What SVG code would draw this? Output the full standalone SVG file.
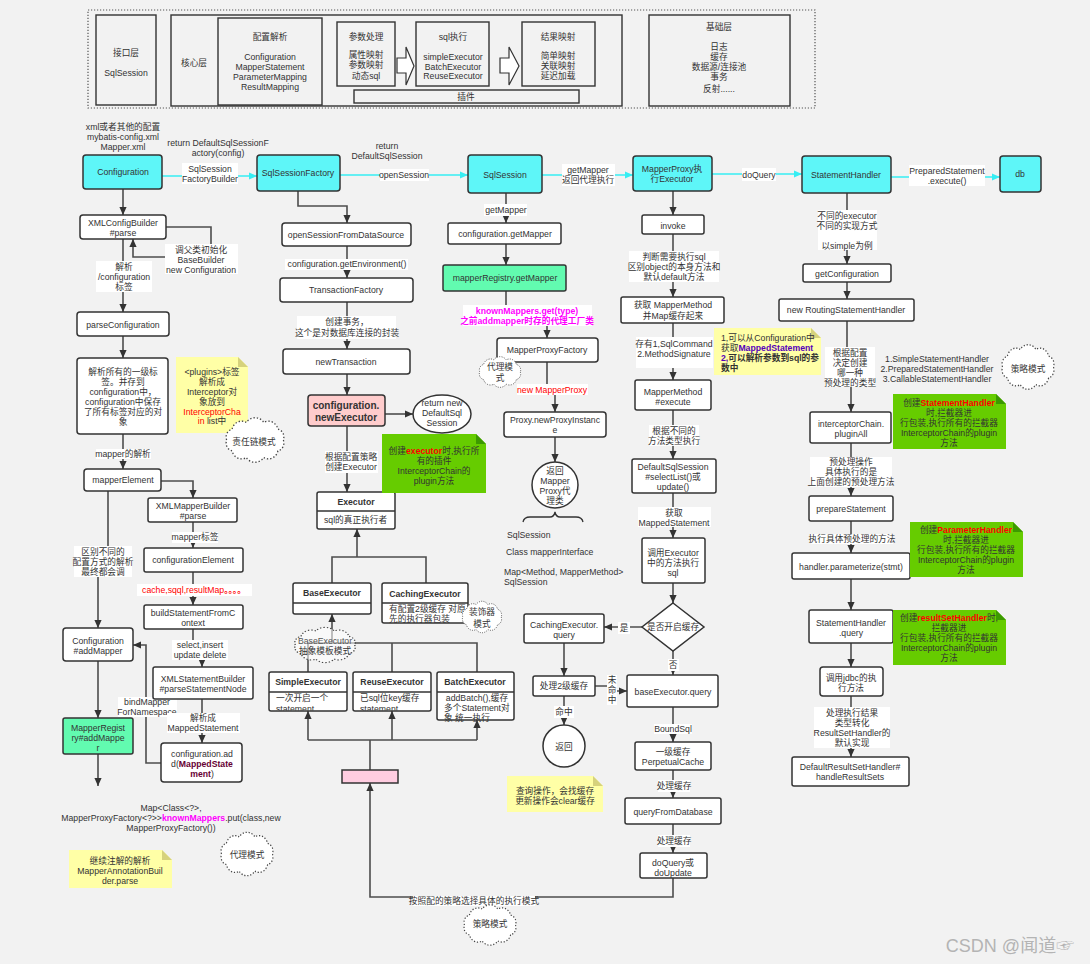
<svg xmlns="http://www.w3.org/2000/svg" width="1090" height="964" viewBox="0 0 1090 964">
<defs>
<style>
text{font-family:"Liberation Sans","Noto Sans CJK SC","DejaVu Sans",sans-serif;font-size:8.7px;fill:#333;text-anchor:middle;dominant-baseline:central}
.l{text-anchor:start}
.b{font-weight:bold}
.box{fill:#fff;stroke:#333;stroke-width:1.5}
.cy{fill:#5ef6f8;stroke:#333;stroke-width:1.5}
.mint{fill:#62fbb0;stroke:#333;stroke-width:1.5}
.pink{fill:#ffcccc;stroke:#333;stroke-width:1.5}
.tb{fill:none;stroke:#333;stroke-width:1.4}
.ln{fill:none;stroke:#4d4d4d;stroke-width:1.6;marker-end:url(#ah)}
.nl{fill:none;stroke:#4d4d4d;stroke-width:1.6}
.cl{fill:none;stroke:#36eef3;stroke-width:1.6;marker-end:url(#ahc)}
.lb{fill:#fff}
.yn{fill:#ffffa6}
.yf{fill:#d6d27c}
.gn{fill:#66cc00}
.gf{fill:#3c9a00}
.cloud{fill:#fff;stroke:#444;stroke-width:1.2;stroke-dasharray:1.2 1.8}
.red{fill:#ff0000}
.rb{fill:#ff0000;font-weight:bold}
.mag{fill:#ff00ff;font-weight:bold}
.pur{fill:#5500bb;font-weight:bold}
.mar{fill:#660033;font-weight:bold}
</style>
<marker id="ah" viewBox="0 0 10 10" refX="10" refY="5" markerWidth="8" markerHeight="8" markerUnits="userSpaceOnUse" orient="auto"><path d="M0,0.5 L10,5 L0,9.5 z" fill="#333"/></marker>
<marker id="ahc" viewBox="0 0 10 10" refX="10" refY="5" markerWidth="8" markerHeight="8" markerUnits="userSpaceOnUse" orient="auto"><path d="M0,0.5 L10,5 L0,9.5 z" fill="#36eef3"/></marker>
<path id="cloud" d="M26,0 A7,7 0 0 1 21,9.4 A9,9 0 0 1 8,15.2 A10,10 0 0 1 -8,15.2 A9,9 0 0 1 -21,9.4 A7,7 0 0 1 -26,0 A7,7 0 0 1 -21,-9.4 A9,9 0 0 1 -8,-15.2 A10,10 0 0 1 8,-15.2 A9,9 0 0 1 21,-9.4 A7,7 0 0 1 26,0 Z"/>
<clipPath id="clipS"><rect x="269" y="692" width="78" height="18.5"/></clipPath>
<clipPath id="clipR"><rect x="353" y="692" width="78" height="18.5"/></clipPath>
</defs>
<rect x="0" y="0" width="1090" height="964" fill="#f2f2f2"/>

<g id="top">
<rect x="88" y="10" width="727" height="98" fill="none" stroke="#555" stroke-width="1.2" stroke-dasharray="1.2 1.8"/>
<g id="n-api"><rect x="96" y="15" width="60" height="90" class="tb"/><text x="126" y="53">接口层</text><text x="126" y="73">SqlSession</text></g>
<g id="n-core"><rect x="171" y="15" width="451" height="91" class="tb"/><text x="194" y="63">核心层</text></g>
<g id="n-cfgparse"><rect x="218" y="18" width="104" height="87" class="tb"/><text x="270" y="37">配置解析</text><text x="270" y="57">Configuration</text><text x="270" y="67">MapperStatement</text><text x="270" y="77">ParameterMapping</text><text x="270" y="87">ResultMapping</text></g>
<g id="n-param"><rect x="337" y="22" width="58" height="64" class="tb"/><text x="366" y="37">参数处理</text><text x="366" y="55">属性映射</text><text x="366" y="65">参数映射</text><text x="366" y="76">动态sql</text></g>
<polygon points="397,58 406,58 406,47 414,66 406,85 406,73 397,73" fill="#fff" stroke="#333" stroke-width="1.2"/>
<g id="n-sqlexec"><rect x="416" y="22" width="73" height="64" class="tb"/><text x="453" y="37">sql执行</text><text x="453" y="57">simpleExecutor</text><text x="453" y="67">BatchExecutor</text><text x="453" y="76">ReuseExecutor</text></g>
<polygon points="500,58 509,58 509,47 519,66 509,85 509,73 500,73" fill="#fff" stroke="#333" stroke-width="1.2"/>
<g id="n-result"><rect x="522" y="22" width="73" height="64" class="tb"/><text x="558" y="37">结果映射</text><text x="558" y="56">简单映射</text><text x="558" y="66">关联映射</text><text x="558" y="76">延迟加载</text></g>
<g id="n-plugin"><rect x="354" y="90" width="225" height="13" class="tb"/><text x="466" y="97">插件</text></g>
<g id="n-base"><rect x="649" y="15" width="141" height="91" class="tb"/><text x="719" y="27">基础层</text><text x="719" y="47">日志</text><text x="719" y="57">缓存</text><text x="719" y="67">数据源/连接池</text><text x="719" y="77">事务</text><text x="719" y="89">反射......</text></g>
</g>

<g id="connectors">
<path class="cl" d="M162,176 H257"/>
<path class="cl" d="M340,175 H468"/>
<path class="cl" d="M542,175 H633"/>
<path class="cl" d="M712,174 H802"/>
<path class="cl" d="M891,177 H1000"/>
<path class="ln" d="M123,189 V215"/>
<path class="ln" d="M166,227 H211 V257 H133 V239"/>
<path class="ln" d="M123,239 V312"/>
<path class="ln" d="M123,336 V358"/>
<path class="ln" d="M123,434 V469"/>
<path class="ln" d="M161,481 H193 V498"/>
<path class="ln" d="M108,491 V560 H98 V628"/>
<path class="ln" d="M193,522 V548"/>
<path class="ln" d="M193,572 V605"/>
<path class="ln" d="M193,629 V650 H202 V667"/>
<path class="ln" d="M202,699 V743"/>
<path class="ln" d="M161,763 H146 V645 H133"/>
<path class="ln" d="M98,661 V718"/>
<path class="ln" d="M98,754 V786"/>
<path class="ln" d="M298,191 V206 H347 V223"/>
<path class="ln" d="M347,246 V278"/>
<path class="ln" d="M347,302 V349"/>
<path class="ln" d="M347,374 V395"/>
<path class="ln" d="M385,414 H413"/>
<path class="ln" d="M347,426 V492"/>
<path class="nl" d="M332,583 V557 H426 V583"/>
<path class="ln" d="M357,557 V529"/>
<path class="nl" d="M308,672 V643 H477 V672 M392,643 V672"/>
<path class="ln" d="M332,643 V614"/>
<path class="ln" d="M673,878 V897 H370 V783"/>
<path class="nl" d="M370,770 V740 M308,740 H477"/>
<path class="ln" d="M308,740 V711"/>
<path class="ln" d="M392,740 V711"/>
<path class="ln" d="M477,740 V720"/>
<path class="ln" d="M506,193 V223"/>
<path class="ln" d="M506,244 V265"/>
<path class="ln" d="M506,291 V315 H547 V338"/>
<path class="ln" d="M547,362 V390 H555 V412"/>
<path class="ln" d="M555,437 V462"/>
<path class="ln" d="M673,191 V215"/>
<path class="ln" d="M673,234 V297"/>
<path class="ln" d="M673,323 V380"/>
<path class="ln" d="M673,410 V459"/>
<path class="ln" d="M673,493 V538"/>
<path class="ln" d="M673,583 V603"/>
<path class="ln" d="M643,627 H604"/>
<path class="ln" d="M673,651 V675"/>
<path class="ln" d="M564,643 V676"/>
<path class="ln" d="M564,696 V725"/>
<path class="ln" d="M595,686 H612 V691 H627"/>
<path class="ln" d="M673,707 V742"/>
<path class="ln" d="M673,770 V798"/>
<path class="ln" d="M673,824 V853"/>
<path class="ln" d="M847,193 V264"/>
<path class="ln" d="M847,282 V299"/>
<path class="ln" d="M847,321 V367 H851 V412"/>
<path class="ln" d="M851,443 V496"/>
<path class="ln" d="M851,521 V553"/>
<path class="ln" d="M851,579 V610"/>
<path class="ln" d="M851,643 V667"/>
<path class="ln" d="M851,696 V757"/>
</g>

<g id="labels">
<rect class="lb" x="182" y="163" width="56" height="21"/><text x="210" y="169">SqlSession</text><text x="210" y="179">FactoryBuilder</text>
<rect class="lb" x="380" y="169" width="49" height="12"/><text x="404" y="175">openSession</text>
<rect class="lb" x="562" y="164" width="53" height="22"/><text x="588" y="170">getMapper</text><text x="588" y="180">返回代理执行</text>
<rect class="lb" x="742" y="168" width="34" height="13"/><text x="759" y="175">doQuery</text>
<rect class="lb" x="909" y="165" width="76" height="21"/><text x="947" y="171">PreparedStatement</text><text x="947" y="181">.execute()</text>
<rect class="lb" x="165" y="244" width="73" height="30"/><text x="201" y="250">调父类初始化</text><text x="201" y="260">BaseBuilder</text><text x="201" y="270">new Configuration</text>
<rect class="lb" x="96" y="261" width="56" height="31"/><text x="124" y="267">解析</text><text x="124" y="277">/configuration</text><text x="124" y="287">标签</text>
<rect class="lb" x="96" y="449" width="55" height="10"/><text x="123" y="454">mapper的解析</text>
<rect class="lb" x="172" y="532" width="46" height="11"/><text x="195" y="537">mapper标签</text>
<rect class="lb" x="137" y="584" width="115" height="12"/><text x="194" y="590" class="red">cache,sqql,resultMap<tspan class="rb">。。。。</tspan></text>
<rect class="lb" x="74" y="546" width="58" height="31"/><text x="103" y="552">区别不同的</text><text x="103" y="562">配置方式的解析</text><text x="103" y="572">最终都会调</text>
<rect class="lb" x="172" y="640" width="56" height="20"/><text x="200" y="645">select,insert</text><text x="200" y="655">update delete</text>
<rect class="lb" x="118" y="697" width="59" height="20"/><text x="147" y="702">bindMapper</text><text x="147" y="712">ForNamespace</text>
<rect class="lb" x="167" y="713" width="73" height="20"/><text x="203" y="718">解析成</text><text x="203" y="728">MappedStatement</text>
<rect class="lb" x="484" y="204" width="43" height="12"/><text x="506" y="210">getMapper</text>
<rect class="lb" x="285" y="259" width="123" height="11"/><text x="347" y="264">configuration.getEnvironment()</text>
<rect class="lb" x="297" y="316" width="99" height="23"/><text x="347" y="322">创建事务，</text><text x="347" y="333">这个是对数据库连接的封装</text>
<rect class="lb" x="463" y="305" width="129" height="21"/><text x="527" y="311" class="mag">knownMappers.get(type)</text><text x="527" y="321" class="mag">之前addmapper时存的代理工厂类</text>
<rect class="lb" x="517" y="384" width="71" height="11"/><text x="552" y="390" class="red">new MapperProxy</text>
<rect class="lb" x="325" y="451" width="53" height="22"/><text x="351" y="457">根据配置策略</text><text x="351" y="467">创建Executor</text>
<rect class="lb" x="629" y="251" width="90" height="31"/><text x="674" y="257">判断需要执行sql</text><text x="674" y="267">区别object的本身方法和</text><text x="674" y="277">默认default方法</text>
<rect class="lb" x="636" y="337" width="77" height="31"/><text x="674" y="344">存有1,SqlCommand</text><text x="674" y="354">2.MethodSignature</text>
<rect class="lb" x="649" y="425" width="50" height="21"/><text x="674" y="431">根据不同的</text><text x="674" y="441">方法类型执行</text>
<rect class="lb" x="638" y="507" width="73" height="20"/><text x="674" y="513">获取</text><text x="674" y="523">MappedStatement</text>
<rect class="lb" x="618" y="622" width="12" height="12"/><text x="624" y="628">是</text>
<rect class="lb" x="668" y="659" width="11" height="12"/><text x="673" y="665">否</text>
<rect class="lb" x="554" y="706" width="20" height="12"/><text x="564" y="712">命中</text>
<rect class="lb" x="607" y="675" width="10" height="30"/><text x="612" y="680">未</text><text x="612" y="690">命</text><text x="612" y="700">中</text>
<rect class="lb" x="654" y="724" width="38" height="10"/><text x="673" y="729">BoundSql</text>
<rect class="lb" x="658" y="780" width="32" height="12"/><text x="674" y="786">处理缓存</text>
<rect class="lb" x="658" y="835" width="32" height="12"/><text x="674" y="841">处理缓存</text>
<rect class="lb" x="413" y="896" width="122" height="10"/><text x="474" y="901">按照配的策略选择具体的执行模式</text>
<rect class="lb" x="818" y="210" width="59" height="40"/><text x="847" y="216">不同的executor</text><text x="847" y="226">不同的实现方式</text><text x="847" y="246">以simple为例</text>
<rect class="lb" x="825" y="347" width="50" height="40"/><text x="850" y="353">根据配置</text><text x="850" y="363">决定创建</text><text x="850" y="373">哪一种</text><text x="850" y="383">预处理的类型</text>
<rect class="lb" x="810" y="457" width="82" height="30"/><text x="851" y="462">预处理操作</text><text x="851" y="472">具体执行的是</text><text x="851" y="482">上面创建的预处理方法</text>
<rect class="lb" x="811" y="534" width="82" height="10"/><text x="852" y="539">执行具体预处理的方法</text>
<rect class="lb" x="814" y="707" width="76" height="41"/><text x="852" y="713">处理执行结果</text><text x="852" y="723">类型转化</text><text x="852" y="733">ResultSetHandler的</text><text x="852" y="743">默认实现</text>
</g>

<g id="n-configuration"><rect x="83" y="155" width="79" height="34" rx="3" class="cy"/><text x="123" y="172">Configuration</text></g>
<g id="n-sqlsessionfactory"><rect x="257" y="155" width="83" height="36" rx="3" class="cy"/><text x="298" y="173">SqlSessionFactory</text></g>
<g id="n-sqlsession"><rect x="468" y="155" width="74" height="38" rx="3" class="cy"/><text x="505" y="175">SqlSession</text></g>
<g id="n-mapperproxy"><rect x="633" y="156" width="79" height="35" rx="3" class="cy"/><text x="672" y="169">MapperProxy执</text><text x="672" y="179">行Executor</text></g>
<g id="n-statementhandler"><rect x="802" y="156" width="89" height="37" rx="3" class="cy"/><text x="846" y="175">StatementHandler</text></g>
<g id="n-db"><rect x="1000" y="156" width="41" height="36" rx="3" class="cy"/><text x="1020" y="174">db</text></g>

<g id="n-xmlconfigbuilder"><rect x="80" y="215" width="86" height="24" rx="3" class="box"/><text x="123" y="223">XMLConfigBuilder</text><text x="123" y="233">#parse</text></g>
<g id="n-parseconfiguration"><rect x="77" y="312" width="92" height="24" rx="3" class="box"/><text x="123" y="325">parseConfiguration</text></g>
<g id="n-parseall"><rect x="77" y="358" width="91" height="76" rx="3" class="box"/><text x="123" y="372">解析所有的一级标</text><text x="123" y="382">签。并存到</text><text x="123" y="392">configuration中，</text><text x="123" y="402">configuration中保存</text><text x="123" y="412">了所有标签对应的对</text><text x="123" y="422">象</text></g>
<g id="n-mapperelement"><rect x="84" y="469" width="77" height="22" rx="3" class="box"/><text x="123" y="480">mapperElement</text></g>
<g id="n-xmlmapperbuilder"><rect x="148" y="498" width="89" height="24" rx="2" class="box"/><text x="193" y="506">XMLMapperBuilder</text><text x="193" y="516">#parse</text></g>
<g id="n-configurationelement"><rect x="144" y="548" width="99" height="24" rx="2" class="box"/><text x="193" y="560">configurationElement</text></g>
<g id="n-buildstatement"><rect x="144" y="605" width="99" height="24" rx="2" class="box"/><text x="193" y="613">buildStatementFromC</text><text x="193" y="623">ontext</text></g>
<g id="n-xmlstatementbuilder"><rect x="153" y="667" width="100" height="32" rx="2" class="box"/><text x="203" y="679">XMLStatementBuilder</text><text x="203" y="689">#parseStatementNode</text></g>
<g id="n-configadd"><rect x="161" y="743" width="81" height="39" rx="3" class="box"/><text x="202" y="754">configuration.ad</text><text x="202" y="764">d(<tspan class="mar">MappedState</tspan></text><text x="202" y="774"><tspan class="mar">ment</tspan>)</text></g>
<g id="n-addmapper"><rect x="63" y="628" width="70" height="33" rx="3" class="box"/><text x="98" y="641">Configuration</text><text x="98" y="651">#addMapper</text></g>
<g id="n-mapperregistry"><rect x="63" y="718" width="70" height="36" rx="2" class="mint"/><text x="98" y="728">MapperRegist</text><text x="98" y="738">ry#addMappe</text><text x="98" y="748">r</text></g>

<g id="n-opensessionfromds"><rect x="282" y="223" width="129" height="23" rx="3" class="box"/><text x="346" y="235">openSessionFromDataSource</text></g>
<g id="n-transactionfactory"><rect x="280" y="278" width="133" height="24" rx="3" class="box"/><text x="346" y="290">TransactionFactory</text></g>
<g id="n-newtransaction"><rect x="283" y="349" width="127" height="25" rx="3" class="box"/><text x="346" y="362">newTransaction</text></g>
<g id="n-newexecutor"><rect x="308" y="395" width="77" height="31" rx="3" class="pink"/><text x="346" y="405" class="b" style="font-size:10px">configuration.</text><text x="346" y="417" class="b" style="font-size:10px">newExecutor</text></g>
<g id="n-returnsession"><ellipse cx="442" cy="414" rx="29" ry="19" class="box"/><text x="442" y="403">return new</text><text x="442" y="413">DefaultSql</text><text x="442" y="423">Session</text></g>

<g id="n-executor"><rect x="317" y="492" width="78" height="37" rx="2" class="box"/><line x1="317" y1="511" x2="395" y2="511" stroke="#333" stroke-width="1.5"/><text x="356" y="502" class="b">Executor</text><text x="324" y="520" class="l">sql的真正执行者</text></g>
<g id="n-baseexecutor"><rect x="293" y="583" width="78" height="31" rx="2" class="box"/><line x1="293" y1="603" x2="371" y2="603" stroke="#333" stroke-width="1.5"/><text x="332" y="593" class="b">BaseExecutor</text></g>
<g id="n-cachingexecutor"><rect x="382" y="583" width="86" height="40" rx="2" class="box"/><line x1="382" y1="603" x2="468" y2="603" stroke="#333" stroke-width="1.5"/><text x="425" y="594" class="b">CachingExecutor</text><text x="389" y="609" class="l">有配置2级缓存 对原</text><text x="389" y="619" class="l">先的执行器包装</text></g>
<g id="n-simpleexecutor"><rect x="269" y="672" width="78" height="39" rx="2" class="box"/><line x1="269" y1="692" x2="347" y2="692" stroke="#333" stroke-width="1.5"/><text x="308" y="682" class="b">SimpleExecutor</text><text x="276" y="698" class="l">一次开启一个</text><text x="276" y="709" class="l" clip-path="url(#clipS)">statement</text></g>
<g id="n-reuseexecutor"><rect x="353" y="672" width="78" height="39" rx="2" class="box"/><line x1="353" y1="692" x2="431" y2="692" stroke="#333" stroke-width="1.5"/><text x="392" y="682" class="b">ReuseExecutor</text><text x="360" y="698" class="l">已sql位key缓存</text><text x="360" y="709" class="l" clip-path="url(#clipR)">statement</text></g>
<g id="n-batchexecutor"><rect x="437" y="672" width="77" height="48" rx="2" class="box"/><line x1="437" y1="692" x2="514" y2="692" stroke="#333" stroke-width="1.5"/><text x="475" y="682" class="b">BatchExecutor</text><text x="477" y="698">addBatch(),缓存</text><text x="444" y="708" class="l">多个Statement对</text><text x="444" y="718" class="l">象 统一执行</text></g>
<g id="n-pink"><rect x="342" y="770" width="56" height="13" class="pink" style="fill:#ffcce0"/></g>

<g id="n-configgetmapper"><rect x="448" y="223" width="113" height="21" rx="2" class="box"/><text x="505" y="234">configuration.getMapper</text></g>
<g id="n-registrygetmapper"><rect x="443" y="265" width="123" height="26" rx="2" class="mint"/><text x="505" y="278">mapperRegistry.getMapper</text></g>
<g id="n-mapperproxyfactory"><rect x="497" y="338" width="101" height="24" rx="3" class="box"/><text x="547" y="350">MapperProxyFactory</text></g>
<g id="n-newproxyinstance"><rect x="504" y="412" width="102" height="25" rx="3" class="box"/><text x="555" y="420">Proxy.newProxyInstanc</text><text x="555" y="430">e</text></g>
<g id="n-returnproxy"><circle cx="555" cy="485" r="23" class="box"/><text x="555" y="471">返回</text><text x="555" y="481">Mapper</text><text x="555" y="491">Proxy代</text><text x="555" y="501">理类</text></g>
<g id="n-brace"><path d="M523,522 Q524,517 530,517 H550 Q554,517 555,512 Q556,517 560,517 H576 Q582,517 583,522" fill="none" stroke="#333" stroke-width="1.3"/>
<text x="507" y="535" class="l">SqlSession</text><text x="506" y="552" class="l">Class mapperInterface</text><text x="504" y="572" class="l">Map&lt;Method, MapperMethod&gt;</text><text x="504" y="582" class="l">SqlSession</text></g>

<g id="n-invoke"><rect x="642" y="215" width="62" height="19" rx="2" class="box"/><text x="673" y="226">invoke</text></g>
<g id="n-getmappermethod"><rect x="621" y="297" width="103" height="26" rx="2" class="box"/><text x="673" y="305">获取  MapperMethod</text><text x="673" y="316">并Map缓存起来</text></g>
<g id="n-mappermethodexecute"><rect x="635" y="380" width="76" height="30" rx="2" class="box"/><text x="673" y="392">MapperMethod</text><text x="673" y="402">#execute</text></g>
<g id="n-defaultsqlsession"><rect x="632" y="459" width="84" height="34" rx="2" class="box"/><text x="673" y="467">DefaultSqlSession</text><text x="673" y="477">#selectList()或</text><text x="673" y="487">update()</text></g>
<g id="n-callexecutor"><rect x="642" y="538" width="63" height="45" rx="2" class="box"/><text x="673" y="553">调用Executor</text><text x="673" y="563">中的方法执行</text><text x="673" y="573">sql</text></g>
<g id="n-cachediamond"><polygon points="673,603 704,627 673,651 642,627" class="box"/><text x="673" y="627">是否开启缓存</text></g>
<g id="n-cachingquery"><rect x="524" y="614" width="80" height="29" rx="2" class="box"/><text x="564" y="625">CachingExecutor.</text><text x="564" y="635">query</text></g>
<g id="n-level2"><rect x="533" y="676" width="62" height="20" rx="2" class="box"/><text x="564" y="686">处理2级缓存</text></g>
<g id="n-return2"><circle cx="564" cy="746" r="21" class="box"/><text x="564" y="747">返回</text></g>
<g id="n-basequery"><rect x="627" y="675" width="91" height="32" rx="2" class="box"/><text x="673" y="692">baseExecutor.query</text></g>
<g id="n-perpetualcache"><rect x="635" y="742" width="76" height="28" rx="2" class="box"/><text x="673" y="752">一级缓存</text><text x="673" y="762">PerpetualCache</text></g>
<g id="n-queryfromdb"><rect x="625" y="798" width="96" height="26" rx="2" class="box"/><text x="673" y="812">queryFromDatabase</text></g>
<g id="n-doquery"><rect x="640" y="853" width="67" height="25" rx="2" class="box"/><text x="673" y="863">doQuery或</text><text x="673" y="873">doUpdate</text></g>

<g id="n-getconfiguration"><rect x="803" y="264" width="88" height="18" rx="2" class="box"/><text x="847" y="274">getConfiguration</text></g>
<g id="n-routing"><rect x="779" y="299" width="135" height="22" rx="2" class="box"/><text x="846" y="310">new RoutingStatementHandler</text></g>
<g id="n-handlertypes"><text x="937" y="359">1.SimpleStatementHandler</text><text x="937" y="369">2.PreparedStatementHandler</text><text x="937" y="379">3.CallableStatementHandler</text></g>
<g id="n-pluginall"><rect x="810" y="412" width="81" height="31" rx="2" class="box"/><text x="851" y="424">interceptorChain.</text><text x="851" y="434">pluginAll</text></g>
<g id="n-preparestatement"><rect x="809" y="496" width="84" height="25" rx="2" class="box"/><text x="851" y="509">prepareStatement</text></g>
<g id="n-parameterize"><rect x="792" y="553" width="118" height="26" rx="2" class="box"/><text x="851" y="567">handler.parameterize(stmt)</text></g>
<g id="n-shquery"><rect x="809" y="610" width="84" height="33" rx="2" class="box"/><text x="851" y="623">StatementHandler</text><text x="851" y="633">.query</text></g>
<g id="n-jdbc"><rect x="820" y="667" width="63" height="29" rx="3" class="box"/><text x="851" y="678">调用jdbc的执</text><text x="851" y="688">行方法</text></g>
<g id="n-defaultrsh"><rect x="792" y="757" width="117" height="29" rx="2" class="box"/><text x="850" y="767">DefaultResultSetHandler#</text><text x="850" y="777">handleResultSets</text></g>

<g id="notes">
<g id="note-plugins"><path class="yn" d="M176,357 H238 L248,367 V433 H176 Z"/><path class="yf" d="M238,357 V367 H248 Z"/><text x="212" y="372">&lt;plugins&gt;标签</text><text x="212" y="382">解析成</text><text x="212" y="392">Interceptor对</text><text x="212" y="402">象放到</text><text x="212" y="412" class="red">InterceptorCha</text><text x="212" y="421"><tspan class="red">in</tspan> list中</text></g>
<g id="note-mappedstatement"><path class="yn" d="M714,328 H811 L821,338 V375 H714 Z"/><path class="yf" d="M811,328 V338 H821 Z"/><text x="721" y="338" class="l">1,可以从Configuration中</text><text x="721" y="348" class="l">获取<tspan class="pur">MappedStatement</tspan></text><text x="721" y="358" class="l b"><tspan class="pur">2,</tspan>可以解析参数到sql的参</text><text x="721" y="368" class="l b">数中</text></g>
<g id="note-annotation"><path class="yn" d="M69,850 H162 L172,860 V888 H69 Z"/><path class="yf" d="M162,850 V860 H172 Z"/><text x="120" y="861">继续注解的解析</text><text x="120" y="871">MapperAnnotationBuil</text><text x="120" y="881">der.parse</text></g>
<g id="note-cache"><path class="yn" d="M507,776 H593 L603,786 V812 H507 Z"/><path class="yf" d="M593,776 V786 H603 Z"/><text x="555" y="791">查询操作，会找缓存</text><text x="555" y="801">更新操作会clear缓存</text></g>
<g id="note-executor"><path class="gn" d="M382,434 H476 L486,444 V493 H382 Z"/><path class="gf" d="M476,434 V444 H486 Z"/><text x="434" y="451">创建<tspan class="rb">executor</tspan>时,执行所</text><text x="434" y="461">有的插件</text><text x="434" y="471">InterceptorChain的</text><text x="434" y="481">plugin方法</text></g>
<g id="note-statementhandler"><path class="gn" d="M893,394 H996 L1006,404 V449 H893 Z"/><path class="gf" d="M996,394 V404 H1006 Z"/><text x="949" y="403">创建<tspan class="rb">StatementHandler</tspan></text><text x="949" y="413">时,拦截器进</text><text x="949" y="423">行包装,执行所有的拦截器</text><text x="949" y="433">InterceptorChain的plugin</text><text x="949" y="443">方法</text></g>
<g id="note-parameterhandler"><path class="gn" d="M910,522 H1013 L1023,532 V577 H910 Z"/><path class="gf" d="M1013,522 V532 H1023 Z"/><text x="966" y="530">创建<tspan class="rb">ParameterHandler</tspan></text><text x="966" y="540">时,拦截器进</text><text x="966" y="550">行包装,执行所有的拦截器</text><text x="966" y="560">InterceptorChain的plugin</text><text x="966" y="570">方法</text></g>
<g id="note-resultsethandler"><path class="gn" d="M893,610 H996 L1006,620 V665 H893 Z"/><path class="gf" d="M996,610 V620 H1006 Z"/><text x="949" y="618">创建<tspan class="rb">resultSetHandler</tspan>时,</text><text x="949" y="628">拦截器进</text><text x="949" y="638">行包装,执行所有的拦截器</text><text x="949" y="648">InterceptorChain的plugin</text><text x="949" y="658">方法</text></g>
</g>

<g id="clouds">
<g id="cloud-chain"><use href="#cloud" class="cloud" transform="translate(255,440) scale(1.09,1.16)"/><text x="254" y="442">责任链模式</text></g>
<g id="cloud-proxy1"><use href="#cloud" class="cloud" transform="translate(500,372) scale(0.78,0.8)"/><text x="500" y="367">代理模</text><text x="500" y="378">式</text></g>
<g id="cloud-decorator"><use href="#cloud" class="cloud" transform="translate(482,617) scale(0.74,0.82)"/><text x="482" y="612">装饰器</text><text x="482" y="624">模式</text></g>
<g id="cloud-template"><use href="#cloud" class="cloud" style="fill-opacity:0.55" transform="translate(325,645) scale(1.14,0.92)"/><text x="325" y="641" style="fill:#555">BaseExecutor</text><text x="325" y="651">抽象模板模式</text></g>
<g id="cloud-proxy2"><use href="#cloud" class="cloud" transform="translate(247,854) scale(0.98,1.13)"/><text x="247" y="855">代理模式</text></g>
<g id="cloud-strategy1"><use href="#cloud" class="cloud" transform="translate(490,925) scale(0.98,1.05)"/><text x="490" y="924">策略模式</text></g>
<g id="cloud-strategy2"><use href="#cloud" class="cloud" transform="translate(1028,367) scale(0.98,1.16)"/><text x="1028" y="369">策略模式</text></g>
</g>

<g id="free-text">
<text x="123" y="127">xml或者其他的配置</text><text x="123" y="137">mybatis-config.xml</text><text x="123" y="147">Mapper.xml</text>
<text x="218" y="143">return DefaultSqlSessionF</text><text x="218" y="153">actory(config)</text>
<text x="387" y="146">return</text><text x="387" y="156">DefaultSqlSession</text>
<text x="171" y="808">Map&lt;Class&lt;?&gt;,</text>
<text x="171" y="818">MapperProxyFactory&lt;?&gt;&gt;<tspan class="mag">knownMappers</tspan>.put(class,new</text>
<text x="171" y="828">MapperProxyFactory())</text>
<text x="1010" y="946" style="font-size:18px;fill:#b4b4b4">CSDN @闻道☞</text>
</g>
</svg>
